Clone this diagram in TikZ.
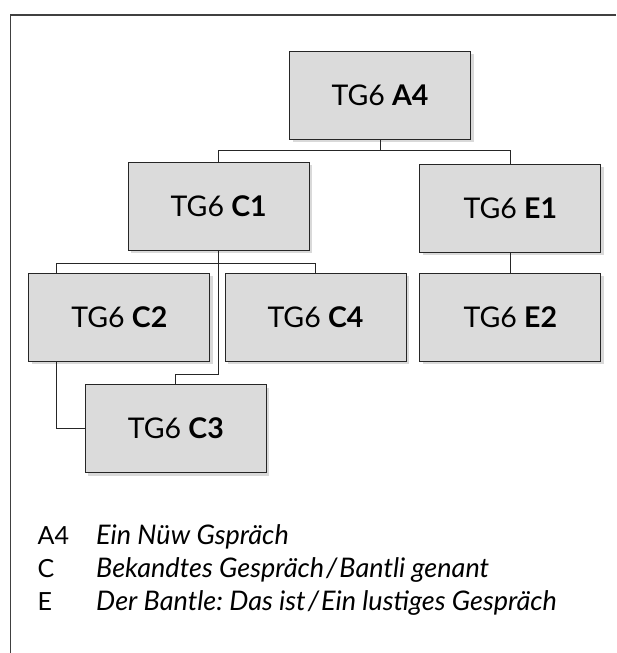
\documentclass[tikz,border=0pt]{standalone}
\usepackage{fontspec}
\setmainfont{Lato}
\usetikzlibrary{shadows}
\frenchspacing

\begin{document}
\begin{tikzpicture}[x=1pt, y=-1pt,
  every node/.style = {font=\fontsize{28.5}{34}\selectfont},
  tgbox/.style = {shape=rectangle, draw=black!85, line width=1pt,
    fill=gray!28, minimum width=181pt, minimum height=88pt,
    drop shadow={opacity=0.3, shadow xshift=3pt, shadow yshift=-3pt}},
  link/.style = {draw=black!85, line width=0.9pt},
  key/.style = {anchor=base west, inner sep=0pt,
    font=\fontsize{25}{30}\selectfont},
  title/.style = {anchor=base west, inner sep=0pt,
    font=\fontsize{27}{32}\selectfont\itshape}]
  \useasboundingbox (0,0) rectangle (616,653);
  \draw[black!75, line width=1.3pt] (616,15) -- (10.5,15) -- (10.5,653);

  % the boxes
  \node[tgbox] (A4) at (380,95)    {TG6 \textbf{A4}};
  \node[tgbox] (C1) at (218.7,206) {TG6 \textbf{C1}};
  \node[tgbox] (E1) at (510.4,208) {TG6 \textbf{E1}};
  \node[tgbox] (C2) at (119.3,317) {TG6 \textbf{C2}};
  \node[tgbox] (C4) at (315.5,317) {TG6 \textbf{C4}};
  \node[tgbox] (E2) at (510.4,317) {TG6 \textbf{E2}};
  \node[tgbox] (C3) at (175.8,428.5) {TG6 \textbf{C3}};

  % the lines between them
  \coordinate (busA) at (380,150.7);
  \coordinate (busC) at (218.7,263.3);
  \coordinate (c2x)  at (56.2,361);
  \draw[link] (A4.south) -- (busA) -| (C1.north);
  \draw[link] (busA) -| (E1.north);
  \draw[link] (E1.south) -- (E2.north);
  \draw[link] (C1.south) -- (busC) -| (c2x |- C2.north);
  \draw[link] (busC) -| (C4.north);
  \draw[link] (C1.south) |- (218.7,374.3) -| (C3.north);
  \draw[link] (c2x) |- (C3.west);

  % legend
  \node[key]   (kA) at (37.5,544) {A4};
  \node[title] (tA) at (96,544) {Ein Nüw Gspräch};
  \node[key]   (kC) at (37.5,577) {C};
  \node[title] (tC) at (96,577) {Bekandtes Gespräch\kern2pt/\kern2pt Bantli genant};
  \node[key]   (kE) at (37.5,610) {E};
  \node[title] (tE) at (96,610) {Der Bantle: Das ist\kern2pt/\kern2pt Ein lustiges Gespräch};
\end{tikzpicture}
\end{document}
